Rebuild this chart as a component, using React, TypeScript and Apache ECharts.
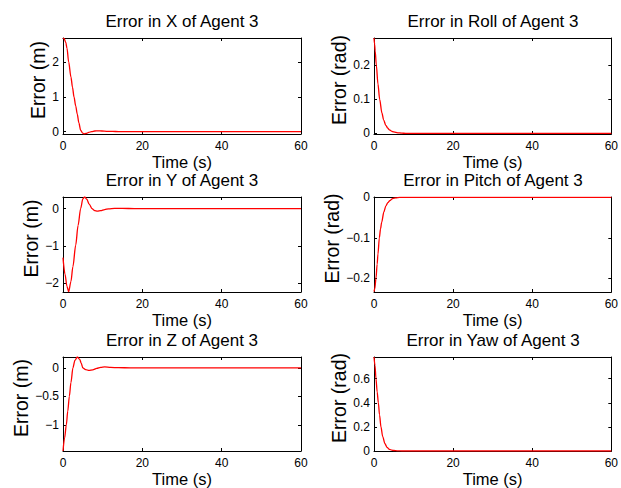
import React, { useEffect, useRef } from "react";
import * as echarts from "echarts";

// ---- data ----
const titles = [
  "Error in X of Agent 3",
  "Error in Roll of Agent 3",
  "Error in Y of Agent 3",
  "Error in Pitch of Agent 3",
  "Error in Z of Agent 3",
  "Error in Yaw of Agent 3",
];
const yLabels = ["Error (m)", "Error (rad)", "Error (m)", "Error (rad)", "Error (m)", "Error (rad)"];
const xLabel = "Time (s)";
const xTicks = [0, 20, 40, 60];

const yMinMax: [number, number][] = [
  [-0.07, 2.69],
  [-0.002, 0.28],
  [-2.23, 0.31],
  [-0.234, 0.001],
  [-1.46, 0.19],
  [0, 0.78],
];
const yTicks = [
  [0, 1, 2],
  [0, 0.1, 0.2],
  [-2, -1, 0],
  [-0.2, -0.1, 0],
  [-1, -0.5, 0],
  [0, 0.2, 0.4, 0.6],
];

const tX = [0, 0.3, 0.7, 1, 1.43, 2, 2.4, 2.77, 3.2, 3.6, 4, 4.45, 4.9, 5.3, 5.8, 6.5, 7.2, 8, 8.8, 9.8, 11, 12.5, 14, 17, 20, 30, 40, 50, 60];
const errX = [2.69, 2.67, 2.56, 2.4, 2.0, 1.57, 1.27, 1.0, 0.74, 0.5, 0.25, 0.04, -0.04, -0.065, -0.055, -0.025, 0.0, 0.016, 0.02, 0.016, 0.008, 0.003, 0, 0, 0, 0, 0, 0, 0];

const tRoll = [0, 0.15, 0.3, 0.59, 1, 1.43, 2, 2.44, 3, 3.5, 3.9, 4.5, 5, 6, 7, 8, 10, 20, 30, 40, 50, 60];
const errRoll = [0.28, 0.262, 0.242, 0.2, 0.145, 0.1, 0.06, 0.039, 0.023, 0.015, 0.01, 0.006, 0.004, 0.0015, 0.0005, 0, 0, 0, 0, 0, 0, 0];

const tY = [0, 0.5, 1, 1.43, 2, 2.5, 3.2, 3.8, 4.45, 5, 5.46, 6, 6.6, 7.3, 8, 8.66, 9.5, 10.5, 11.5, 13, 15, 18, 20, 30, 40, 50, 60];
const errY = [-1.31, -1.75, -2.08, -2.22, -1.95, -1.55, -0.98, -0.45, 0.0, 0.26, 0.31, 0.25, 0.12, 0.0, -0.055, -0.07, -0.055, -0.025, -0.005, 0.008, 0.004, 0, 0, 0, 0, 0, 0];

const tPitch = [0, 0.2, 0.5, 0.8, 1, 1.35, 1.65, 1.93, 2.5, 3, 3.5, 4, 4.7, 5.5, 6.5, 8, 10, 20, 30, 40, 50, 60];
const errPitch = [-0.233, -0.226, -0.2, -0.165, -0.14, -0.1, -0.078, -0.062, -0.036, -0.021, -0.013, -0.008, -0.003, -0.001, 0, 0, 0, 0, 0, 0, 0, 0];

const tZ = [0, 0.4, 0.84, 1.2, 1.6, 2.0, 2.5, 3, 3.6, 4.2, 4.6, 5.0, 5.7, 6.55, 7.5, 8.5, 9.5, 10.5, 12, 14, 17, 20, 30, 40, 50, 60];
const errZ = [-1.46, -1.23, -1.0, -0.76, -0.5, -0.26, 0.0, 0.13, 0.19, 0.15, 0.08, 0.0, -0.03, -0.046, -0.035, -0.01, 0.008, 0.015, 0.008, 0.002, 0, 0, 0, 0, 0, 0];

const tYaw = [0, 0.25, 0.5, 0.8, 1.1, 1.4, 1.76, 2.2, 2.77, 3.3, 3.9, 4.5, 5, 6, 7, 8, 10, 20, 30, 40, 50, 60];
const errYaw = [0.78, 0.71, 0.6, 0.49, 0.4, 0.3, 0.2, 0.12, 0.06, 0.03, 0.014, 0.007, 0.004, 0.001, 0, 0, 0, 0, 0, 0, 0, 0];

const times = [tX, tRoll, tY, tPitch, tZ, tYaw];
const errors = [errX, errRoll, errY, errPitch, errZ, errYaw];

// ---- layout ----
const FONT = "'Liberation Sans', Arial, Helvetica, sans-serif";
const colLeft = [63, 374];
const rowTop = [38, 197, 357];
const gridW = 238;
const rowH = [96, 95, 95];
const yNameGap = [15, 25, 21, 30, 31, 24];

const fmt = (v: number) => String(v).replace("-", "\u2212");

export default function App() {
  const ref = useRef<HTMLDivElement>(null);
  useEffect(() => {
    if (!ref.current) return;
    const chart = echarts.init(ref.current, null, { renderer: "svg" });
    const grids: any[] = [];
    const xAxes: any[] = [];
    const yAxes: any[] = [];
    const series: any[] = [];
    const title: any[] = [];
    for (let i = 0; i < 6; i++) {
      const col = i % 2;
      const row = Math.floor(i / 2);
      const left = colLeft[col];
      const top = rowTop[row];
      const h = rowH[row];
      grids.push({ left, top, width: gridW, height: h, containLabel: false, show: false });
      title.push({
        text: titles[i],
        left: left + gridW / 2,
        top: top - 25,
        textAlign: "center",
        padding: 0,
        textStyle: { fontSize: 17, fontWeight: "normal", color: "#000", fontFamily: FONT },
      });
      const axLine = { show: true, onZero: false, lineStyle: { color: "#000", width: 1 } };
      const tick = { show: true, inside: true, length: 3, lineStyle: { color: "#000", width: 1 } };
      xAxes.push({
        gridIndex: i,
        type: "value",
        position: "bottom",
        min: 0,
        max: 60,
        interval: 20,
        axisLine: axLine,
        axisTick: tick,
        splitLine: { show: false },
        axisLabel: { margin: 6, fontSize: 12, color: "#000", fontFamily: FONT, showMinLabel: true, showMaxLabel: true },
        name: xLabel,
        nameLocation: "middle",
        nameGap: 19,
        nameTextStyle: { fontSize: 16.5, color: "#000", fontFamily: FONT },
      });
      xAxes.push({
        gridIndex: i,
        type: "value",
        position: "top",
        min: 0,
        max: 60,
        interval: 20,
        axisLine: axLine,
        axisTick: tick,
        splitLine: { show: false },
        axisLabel: { show: false },
      });
      const [ymin, ymax] = yMinMax[i];
      yAxes.push({
        gridIndex: i,
        type: "value",
        position: "left",
        min: ymin,
        max: ymax,
        axisLine: axLine,
        axisTick: { ...tick, customValues: yTicks[i] },
        splitLine: { show: false },
        axisLabel: {
          customValues: yTicks[i],
          margin: 4,
          fontSize: 12,
          color: "#000",
          fontFamily: FONT,
          formatter: (v: number) => fmt(v),
        },
        name: yLabels[i],
        nameLocation: "middle",
        nameGap: yNameGap[i],
        nameTextStyle: { fontSize: 19.5, color: "#000", fontFamily: FONT, padding: [0, 0, 0, 12] },
      });
      yAxes.push({
        gridIndex: i,
        type: "value",
        position: "right",
        min: ymin,
        max: ymax,
        axisLine: axLine,
        axisTick: { ...tick, customValues: yTicks[i] },
        splitLine: { show: false },
        axisLabel: { show: false, customValues: yTicks[i] },
      });
      series.push({
        type: "line",
        xAxisIndex: 2 * i,
        yAxisIndex: 2 * i,
        data: times[i].map((t, k) => [t, errors[i][k]]),
        showSymbol: false,
        symbol: "none",
        smooth: 0.3,
        smoothMonotone: "x",
        lineStyle: { color: "#ff0000", width: 1.3 },
        z: 1,
      });
    }
    chart.setOption({
      animation: false,
      backgroundColor: "#fff",
      title,
      grid: grids,
      xAxis: xAxes,
      yAxis: yAxes,
      series,
    });
    return () => chart.dispose();
  }, []);
  return (
    <div
      ref={ref}
      style={{ position: "fixed", left: 0, top: 0, width: 621, height: 488, background: "#fff" }}
    />
  );
}
